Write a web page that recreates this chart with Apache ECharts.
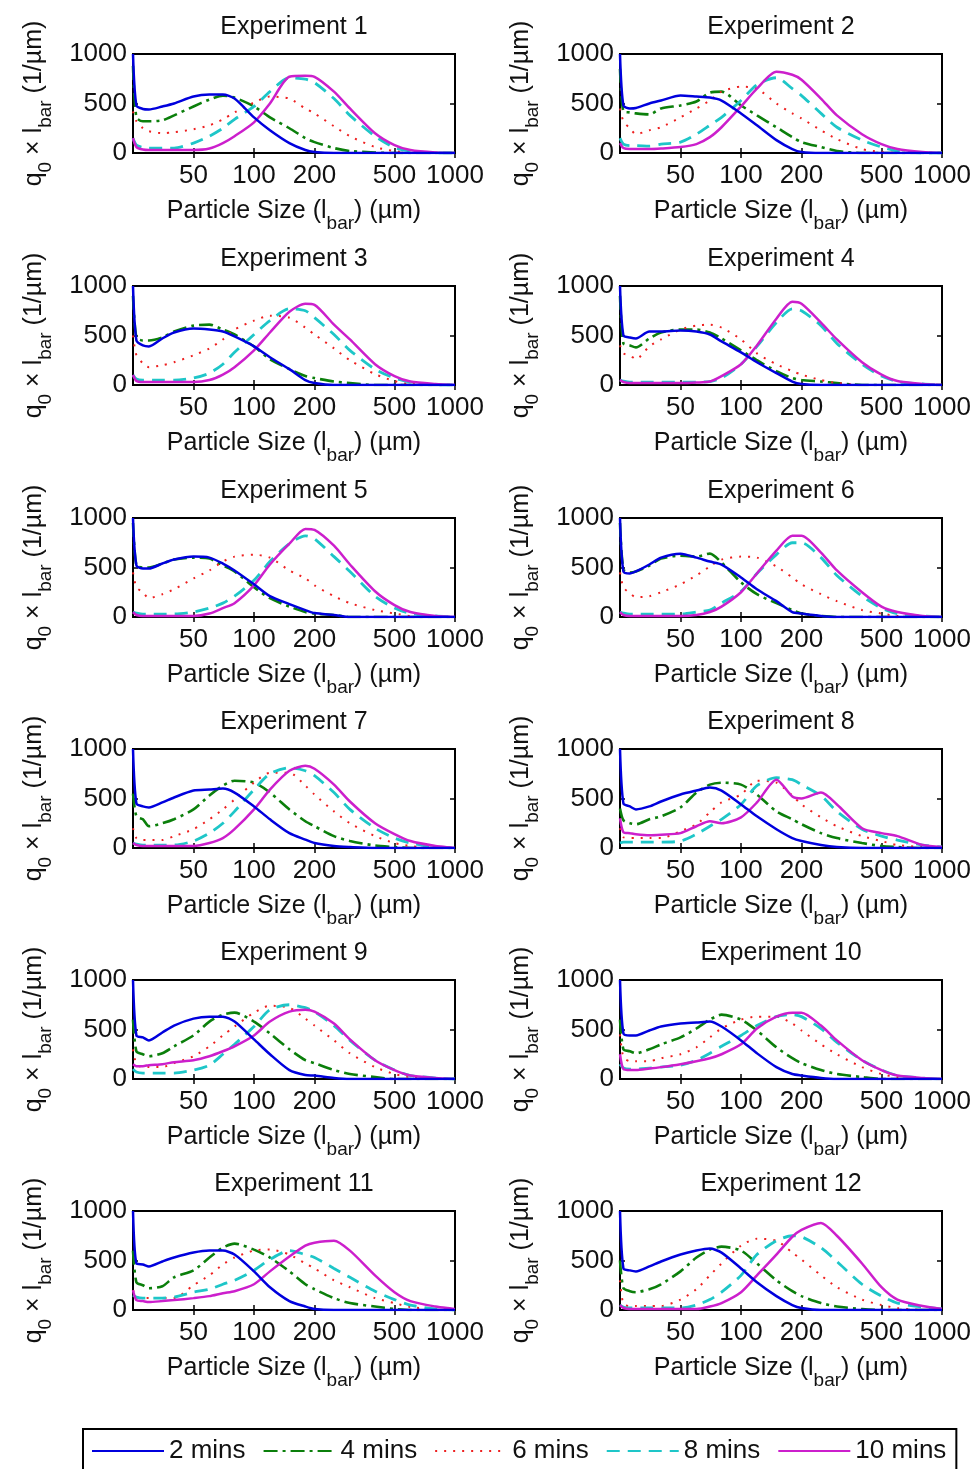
<!DOCTYPE html>
<html><head><meta charset="utf-8">
<script src="https://cdn.jsdelivr.net/npm/echarts@6/dist/echarts.min.js"></script>
<style>html,body{margin:0;padding:0;background:#fff}#c{width:974px;height:1469px}</style>
</head><body><div id="c"></div>
<script>
// Particle sizes (µm) at which the curves are sampled
const sizes = [25, 26, 28, 30, 35, 40, 50, 60, 70, 80, 100, 120, 150, 180, 200, 250, 300, 400, 500, 600, 800, 1000];
const xTicks = [50, 100, 200, 500, 1000];
const yTicks = [0, 500, 1000];
const seriesNames = ['2 mins', '4 mins', '6 mins', '8 mins', '10 mins'];
const titles = ['Experiment 1','Experiment 2','Experiment 3','Experiment 4','Experiment 5','Experiment 6',
  'Experiment 7','Experiment 8','Experiment 9','Experiment 10','Experiment 11','Experiment 12'];

// Experiment 1
const e1m2  = [1000, 480, 445, 440, 470, 500, 570, 590, 590, 550, 360, 230, 100, 30, 10, 0, 0, 0, 0, 0, 0, 0];
const e1m4  = [880, 360, 320, 320, 330, 380, 470, 540, 580, 560, 470, 360, 250, 150, 110, 50, 20, 5, 0, 0, 0, 0];
const e1m6  = [420, 320, 250, 220, 200, 210, 240, 280, 340, 410, 510, 570, 550, 450, 400, 270, 170, 60, 20, 5, 0, 0];
const e1m8  = [150, 80, 55, 50, 50, 50, 100, 170, 250, 340, 470, 620, 760, 745, 710, 550, 380, 170, 55, 20, 0, 0];
const e1m10 = [150, 60, 35, 30, 30, 30, 30, 45, 100, 170, 310, 500, 770, 780, 770, 620, 450, 200, 80, 30, 5, 0];
// Experiment 2
const e2m2  = [1000, 480, 450, 455, 500, 530, 580, 570, 560, 530, 400, 280, 130, 40, 10, 0, 0, 0, 0, 0, 0, 0];
const e2m4  = [850, 420, 410, 400, 390, 450, 480, 520, 610, 620, 480, 380, 260, 160, 110, 60, 20, 0, 0, 0, 0, 0];
const e2m6  = [450, 320, 250, 190, 230, 260, 360, 450, 530, 620, 670, 650, 500, 400, 350, 230, 140, 40, 10, 0, 0, 0];
const e2m8  = [150, 90, 75, 75, 70, 90, 110, 190, 280, 360, 530, 690, 760, 650, 580, 400, 260, 130, 60, 20, 0, 0];
const e2m10 = [100, 50, 40, 40, 40, 45, 60, 90, 160, 260, 470, 650, 820, 790, 740, 550, 380, 190, 90, 40, 10, 0];
// Experiment 3
const e3m2  = [1000, 450, 400, 390, 470, 530, 570, 560, 540, 490, 390, 280, 160, 50, 20, 0, 0, 0, 0, 0, 0, 0];
const e3m4  = [900, 480, 450, 450, 480, 540, 600, 610, 560, 510, 390, 260, 160, 90, 70, 35, 20, 0, 0, 0, 0, 0];
const e3m6  = [500, 300, 220, 180, 200, 230, 300, 370, 460, 560, 650, 700, 680, 580, 510, 370, 250, 110, 40, 10, 0, 0];
const e3m8  = [100, 60, 50, 50, 50, 50, 70, 120, 210, 330, 510, 650, 770, 750, 680, 510, 350, 160, 70, 30, 0, 0];
const e3m10 = [100, 40, 30, 30, 30, 30, 30, 50, 105, 180, 350, 530, 740, 820, 810, 610, 460, 210, 90, 35, 10, 0];
// Experiment 4
const e4m2  = [1000, 500, 480, 470, 540, 540, 550, 540, 510, 440, 330, 230, 120, 35, 10, 0, 0, 0, 0, 0, 0, 0];
const e4m4  = [900, 420, 400, 380, 470, 530, 560, 560, 530, 470, 350, 250, 140, 70, 50, 35, 20, 0, 0, 0, 0, 0];
const e4m6  = [400, 320, 300, 260, 390, 460, 560, 600, 610, 580, 460, 320, 210, 140, 105, 50, 20, 0, 0, 0, 0, 0];
const e4m8  = [50, 40, 30, 30, 30, 30, 30, 30, 35, 70, 210, 390, 630, 770, 750, 600, 420, 210, 90, 35, 10, 0];
const e4m10 = [50, 30, 20, 20, 20, 20, 20, 25, 35, 90, 210, 400, 670, 840, 820, 630, 460, 230, 105, 40, 10, 0];
// Experiment 5
const e5m2  = [1000, 520, 490, 490, 540, 580, 610, 600, 540, 470, 330, 210, 130, 70, 40, 20, 0, 0, 0, 0, 0, 0];
const e5m4  = [950, 520, 500, 500, 540, 580, 600, 590, 520, 460, 300, 190, 105, 50, 35, 20, 0, 0, 0, 0, 0, 0];
const e5m6  = [450, 300, 250, 190, 230, 280, 390, 470, 560, 610, 630, 600, 470, 390, 320, 210, 140, 70, 35, 10, 0, 0];
const e5m8  = [50, 40, 30, 30, 30, 30, 50, 90, 140, 210, 370, 560, 740, 820, 790, 610, 460, 210, 90, 35, 10, 0];
const e5m10 = [50, 20, 10, 10, 10, 10, 10, 35, 90, 140, 320, 530, 740, 890, 880, 720, 530, 260, 120, 50, 10, 0];
// Experiment 6
const e6m2  = [1000, 460, 440, 460, 530, 600, 640, 600, 560, 530, 400, 280, 160, 50, 35, 10, 0, 0, 0, 0, 0, 0];
const e6m4  = [950, 480, 450, 460, 520, 590, 620, 610, 640, 550, 350, 230, 140, 70, 35, 10, 0, 0, 0, 0, 0, 0];
const e6m6  = [450, 300, 240, 200, 210, 250, 330, 420, 510, 580, 610, 600, 510, 400, 330, 230, 160, 70, 35, 10, 0, 0];
const e6m8  = [50, 40, 30, 30, 30, 30, 30, 50, 70, 140, 260, 440, 630, 750, 750, 600, 420, 210, 90, 35, 10, 0];
const e6m10 = [50, 20, 10, 10, 10, 10, 10, 20, 50, 105, 250, 440, 670, 820, 820, 650, 470, 250, 105, 50, 10, 0];
// Experiment 7
const e7m2  = [1000, 450, 420, 410, 460, 510, 580, 590, 600, 560, 420, 290, 150, 85, 50, 20, 10, 0, 0, 0, 0, 0];
const e7m4  = [550, 320, 290, 220, 250, 290, 390, 530, 630, 680, 660, 560, 390, 270, 220, 120, 70, 25, 10, 0, 0, 0];
const e7m6  = [200, 100, 80, 80, 80, 120, 190, 290, 390, 490, 660, 760, 760, 630, 540, 370, 250, 120, 50, 20, 0, 0];
const e7m8  = [50, 40, 30, 30, 30, 30, 70, 150, 250, 370, 590, 750, 810, 780, 730, 560, 390, 200, 100, 50, 10, 0];
const e7m10 = [50, 30, 20, 20, 20, 20, 20, 50, 100, 190, 390, 590, 780, 830, 800, 640, 470, 250, 140, 70, 20, 0];
// Experiment 8
const e8m2  = [1000, 450, 420, 390, 420, 470, 540, 580, 610, 580, 440, 320, 190, 100, 70, 30, 10, 0, 0, 0, 0, 0];
const e8m4  = [400, 280, 250, 240, 290, 320, 410, 560, 640, 660, 640, 540, 370, 290, 240, 150, 100, 50, 20, 10, 0, 0];
const e8m6  = [200, 110, 100, 100, 100, 100, 170, 240, 360, 460, 540, 680, 660, 530, 440, 310, 220, 120, 70, 30, 10, 0];
const e8m8  = [50, 60, 60, 60, 60, 60, 70, 140, 220, 290, 440, 630, 710, 690, 640, 530, 370, 190, 120, 80, 30, 10];
const e8m10 = [300, 160, 150, 140, 130, 135, 150, 220, 270, 250, 310, 460, 690, 520, 500, 560, 440, 200, 150, 120, 30, 10];
// Experiment 9
const e9m2  = [1000, 440, 420, 390, 470, 540, 610, 630, 630, 580, 400, 250, 90, 40, 35, 10, 0, 0, 0, 0, 0, 0];
const e9m4  = [600, 280, 250, 230, 260, 330, 440, 580, 650, 670, 580, 460, 300, 190, 160, 90, 50, 20, 0, 0, 0, 0];
const e9m6  = [300, 150, 120, 120, 120, 160, 230, 330, 440, 530, 670, 740, 720, 610, 540, 390, 260, 120, 50, 20, 0, 0];
const e9m8  = [100, 70, 60, 60, 60, 60, 90, 140, 250, 350, 530, 700, 750, 720, 680, 540, 390, 190, 90, 35, 10, 0];
const e9m10 = [150, 130, 130, 140, 150, 170, 190, 230, 280, 330, 440, 580, 680, 700, 680, 560, 400, 190, 90, 35, 10, 0];
// Experiment 10
const e10m2  = [1000, 460, 440, 440, 490, 530, 560, 570, 580, 530, 390, 260, 120, 50, 35, 10, 0, 0, 0, 0, 0, 0];
const e10m4  = [600, 300, 280, 260, 300, 350, 420, 510, 600, 650, 600, 490, 320, 210, 160, 90, 50, 20, 0, 0, 0, 0];
const e10m6  = [450, 220, 180, 180, 180, 210, 250, 320, 420, 510, 600, 630, 630, 560, 490, 350, 250, 120, 50, 20, 0, 0];
const e10m8  = [150, 110, 100, 100, 110, 120, 140, 190, 260, 330, 440, 540, 630, 650, 630, 510, 370, 190, 90, 35, 10, 0];
const e10m10 = [250, 100, 90, 90, 105, 120, 150, 180, 210, 250, 350, 510, 630, 670, 670, 540, 390, 190, 90, 35, 10, 0];
// Experiment 11
const e11m2  = [1000, 470, 460, 440, 490, 530, 580, 600, 600, 560, 390, 230, 90, 35, 10, 0, 0, 0, 0, 0, 0, 0];
const e11m4  = [600, 280, 250, 220, 240, 330, 400, 530, 630, 670, 610, 530, 390, 260, 210, 120, 70, 35, 10, 0, 0, 0];
const e11m6  = [200, 130, 120, 120, 120, 120, 250, 350, 460, 530, 600, 610, 560, 470, 420, 300, 230, 120, 70, 30, 10, 0];
const e11m8  = [150, 130, 120, 120, 120, 130, 180, 210, 260, 300, 400, 510, 600, 560, 530, 420, 330, 190, 105, 50, 10, 0];
const e11m10 = [200, 100, 90, 80, 90, 100, 120, 140, 170, 190, 260, 390, 540, 650, 680, 700, 600, 350, 180, 90, 35, 10];
// Experiment 12
const e12m2  = [1000, 420, 400, 390, 440, 490, 560, 600, 620, 580, 420, 280, 140, 50, 20, 0, 0, 0, 0, 0, 0, 0];
const e12m4  = [500, 220, 190, 180, 210, 260, 390, 530, 610, 640, 600, 470, 300, 190, 140, 70, 35, 10, 0, 0, 0, 0];
const e12m6  = [300, 60, 40, 40, 40, 40, 105, 210, 350, 470, 650, 720, 700, 580, 510, 350, 230, 105, 50, 20, 0, 0];
const e12m8  = [50, 30, 20, 20, 20, 20, 20, 50, 105, 180, 350, 560, 700, 750, 740, 630, 490, 260, 140, 70, 30, 10];
const e12m10 = [50, 20, 10, 10, 10, 10, 10, 10, 35, 70, 180, 350, 560, 740, 810, 880, 750, 470, 230, 105, 40, 10];

const experiments = [
  [e1m2, e1m4, e1m6, e1m8, e1m10], [e2m2, e2m4, e2m6, e2m8, e2m10],
  [e3m2, e3m4, e3m6, e3m8, e3m10], [e4m2, e4m4, e4m6, e4m8, e4m10],
  [e5m2, e5m4, e5m6, e5m8, e5m10], [e6m2, e6m4, e6m6, e6m8, e6m10],
  [e7m2, e7m4, e7m6, e7m8, e7m10], [e8m2, e8m4, e8m6, e8m8, e8m10],
  [e9m2, e9m4, e9m6, e9m8, e9m10], [e10m2, e10m4, e10m6, e10m8, e10m10],
  [e11m2, e11m4, e11m6, e11m8, e11m10], [e12m2, e12m4, e12m6, e12m8, e12m10]
];

const FONT = "'Liberation Sans', Arial, sans-serif";
const lineStyles = [
  {color: '#0000dd', type: 'solid', width: 2.5},
  {color: '#0b7f0b', type: [14, 5, 3, 5], width: 2.6},
  {color: '#ee2020', type: [2, 7], width: 2},
  {color: '#1ec6c8', type: [13, 8], width: 2.8},
  {color: '#cc1fcc', type: 'solid', width: 2.5}
];
const colLeft = [133, 620];
const rowTop = [54, 286, 518, 749, 980, 1211];
const gw = 322, gh = 99;

const grids = [], xAxes = [], yAxes = [], series = [];
const tickStyle = {show: true, inside: true, length: 5, lineStyle: {color: '#000', width: 1.5}};
const subRich = {
  t: {fontSize: 25, fontFamily: FONT, color: '#111', lineHeight: 30},
  s: {fontSize: 19, fontFamily: FONT, color: '#111', lineHeight: 19, padding: [24, 0, 0, 0]}
};
experiments.forEach((exp, i) => {
  const row = Math.floor(i / 2), col = i % 2;
  grids.push({left: colLeft[col], top: rowTop[row], width: gw, height: gh,
    show: true, borderColor: '#000', borderWidth: 2, backgroundColor: '#fff'});
  // bottom x axis (labels + name)
  xAxes.push({type: 'log', logBase: 10, min: 25, max: 1000, gridIndex: i, position: 'bottom',
    axisLine: {show: false}, splitLine: {show: false}, minorTick: {show: false},
    axisTick: Object.assign({customValues: xTicks}, tickStyle),
    axisLabel: {customValues: xTicks, formatter: v => String(Math.round(v)), fontSize: 26,
      fontFamily: FONT, color: '#111', margin: 10},
    name: '{t|Particle Size (l}{s|bar}{t|) (\u00b5m)}', nameLocation: 'middle', nameGap: 38,
    nameTextStyle: {rich: subRich}
  });
  // top x axis (mirror ticks + title)
  xAxes.push({type: 'log', logBase: 10, min: 25, max: 1000, gridIndex: i, position: 'top',
    axisLine: {show: false}, splitLine: {show: false}, minorTick: {show: false},
    axisTick: Object.assign({customValues: xTicks}, tickStyle),
    axisLabel: {show: false},
    name: titles[i], nameLocation: 'middle', nameGap: 14,
    nameTextStyle: {fontSize: 25, fontFamily: FONT, color: '#111'}
  });
  yAxes.push({type: 'value', min: 0, max: 1000, interval: 500, gridIndex: i, position: 'left',
    axisLine: {show: false}, splitLine: {show: false},
    axisTick: tickStyle,
    axisLabel: {customValues: yTicks, formatter: v => String(v), fontSize: 26, fontFamily: FONT, color: '#111', margin: 6},
    name: '{t|q}{s|0}{t| \u00d7 l}{s|bar}{t| (1/\u00b5m)}', nameLocation: 'middle', nameGap: 84, nameRotate: 90,
    nameTextStyle: {rich: subRich}
  });
  yAxes.push({type: 'value', min: 0, max: 1000, interval: 500, gridIndex: i, position: 'right',
    axisLine: {show: false}, splitLine: {show: false},
    axisTick: tickStyle, axisLabel: {show: false}
  });
  exp.forEach((vals, k) => {
    series.push({
      name: seriesNames[k], type: 'line', xAxisIndex: 2 * i, yAxisIndex: 2 * i,
      data: sizes.map((s, j) => [s, vals[j]]),
      symbol: 'none', smooth: 0.25, lineStyle: lineStyles[k], itemStyle: {color: lineStyles[k].color},
      animation: false, clip: true, z: 3 + (k === 0 ? 1 : 0)
    });
  });
});

const chart = echarts.init(document.getElementById('c'), null, {renderer: 'canvas'});
chart.setOption({
  animation: false,
  grid: grids, xAxis: xAxes, yAxis: yAxes, series: series,
  legend: {
    data: seriesNames, left: 83, top: 1429, orient: 'horizontal',
    itemWidth: 72, itemHeight: 14, itemGap: 17,
    itemStyle: {opacity: 0},
    padding: [9, 10, 14, 8], borderColor: '#000', borderWidth: 2, backgroundColor: '#fff',
    textStyle: {fontSize: 26, fontFamily: FONT, color: '#111', padding: [0, 0, 0, 0]},
    selectedMode: false
  }
});
</script></body></html>
